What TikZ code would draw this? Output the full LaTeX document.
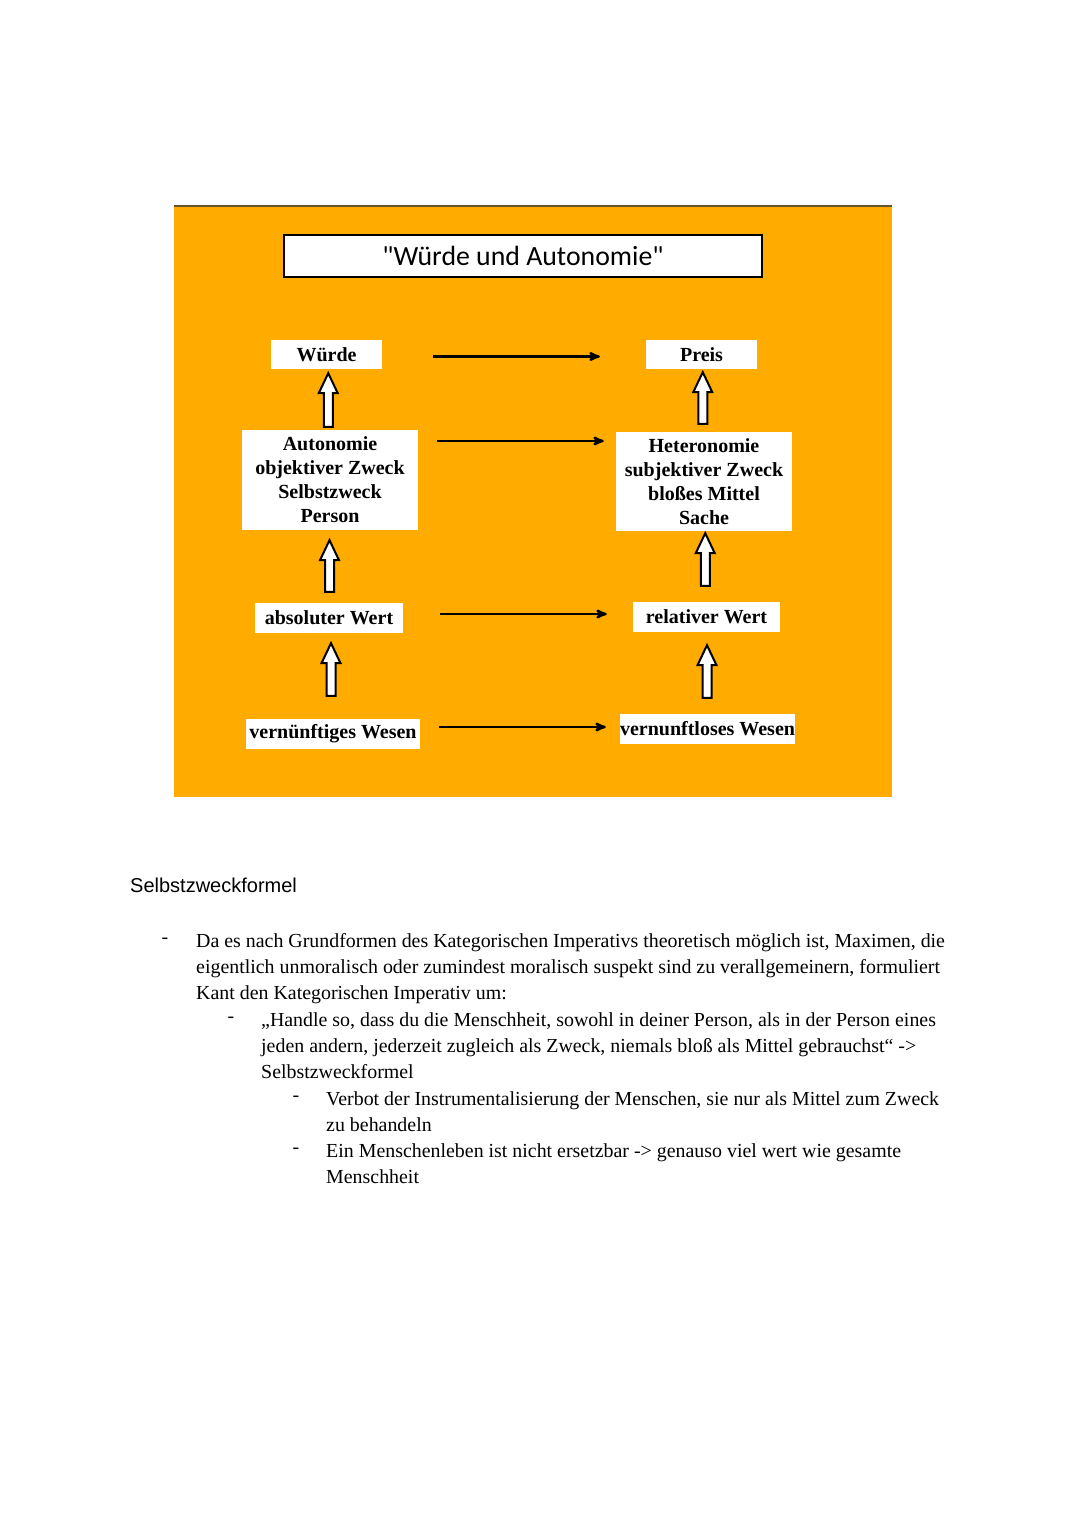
\documentclass[tikz,border=0pt]{standalone}
\usepackage{fontspec}
\setmainfont{Liberation Serif}
\newfontfamily\titlefont{Carlito}
\newfontfamily\headfont{Liberation Sans}
\usetikzlibrary{arrows,calc}
\definecolor{panelbg}{RGB}{255,171,0}
\definecolor{panelrule}{RGB}{105,85,45}

% hollow arrow from the top of #1 up to the bottom of #2, #3/#4 = gaps
\newcommand{\hollowup}[4]{%
  \draw[hollow] let \p1=($(#1.north)+(0,-#3)$), \p2=($(#2.south)+(0,#4)$),
    \p3=($(#1.north)!.5!(#2.south)$) in
    (\x3-4.5pt,\y1) -- (\x3-4.5pt,\y2-20pt) -- (\x3-9.5pt,\y2-20pt) -- (\x3,\y2)
    -- (\x3+9.5pt,\y2-20pt) -- (\x3+4.5pt,\y2-20pt) -- (\x3+4.5pt,\y1) -- cycle;}

\begin{document}
\begin{tikzpicture}[x=1pt,y=-1pt,
  box/.style={fill=white,inner sep=0pt,align=center,font=\bfseries\fontsize{20}{24}\selectfont},
  titlebox/.style={draw=black,line width=1.6pt,fill=white,minimum width=478pt,minimum height=42pt,
    font=\titlefont\fontsize{27.8}{30}\selectfont},
  flow/.style={->,>=stealth',line width=2.4pt},
  hollow/.style={draw=black,line width=2pt,fill=white,line join=miter},
  bullet/.style={inner sep=0pt,font=\fontsize{19.9}{26}\selectfont},
  itemtext/.style={bullet,anchor=north west,align=left}]

  \useasboundingbox (0,0) rectangle (1080,1525);
  \fill[white] (0,0) rectangle (1080,1525);

  % orange panel
  \fill[panelbg] (174,206) rectangle (892,797);
  \draw[panelrule,line width=1.5pt] (174,206) -- (892,206);

  \node[titlebox] (title) at (523,256) {"Würde und Autonomie"};

  % left column
  \node[box,minimum width=111pt,minimum height=29pt] (wuerde) at (326.5,354.5) {Würde};
  \node[box,minimum width=176pt,minimum height=100pt] (auto) at (330,480)
    {Autonomie\\objektiver Zweck\\Selbstzweck\\Person};
  \node[box,minimum width=148pt,minimum height=30pt] (abswert) at (329,618) {absoluter Wert};
  \node[box,minimum width=174pt,minimum height=30pt] (vwesen) at (333,734) {vernünftiges Wesen};

  % right column
  \node[box,minimum width=111pt,minimum height=29pt] (preis) at (701.5,354.5) {Preis};
  \node[box,minimum width=176pt,minimum height=99pt] (hetero) at (704,481.5)
    {Heteronomie\\subjektiver Zweck\\bloßes Mittel\\Sache};
  \node[box,minimum width=147pt,minimum height=30pt] (relwert) at (706.5,617) {relativer Wert};
  \node[box,minimum width=175pt,minimum height=30pt] (lwesen) at (707.5,729) {vernunftloses Wesen};

  \draw[flow] ([xshift=51pt,yshift=-2pt]wuerde.east) -- ([xshift=-46pt,yshift=-2pt]preis.west);
  \draw[flow] ([xshift=19pt,yshift=39pt]auto.east) -- ([xshift=-12pt,yshift=40.5pt]hetero.west);
  \draw[flow] ([xshift=37pt,yshift=4pt]abswert.east) -- ([xshift=-26pt,yshift=3pt]relwert.west);
  \draw[flow] ([xshift=19pt,yshift=7pt]vwesen.east) -- ([xshift=-14pt,yshift=2pt]lwesen.west);

  \hollowup{auto}{wuerde}{3}{4}
  \hollowup{abswert}{auto}{11}{10}
  \hollowup{vwesen}{abswert}{23}{10}
  \hollowup{hetero}{preis}{8}{3}
  \hollowup{relwert}{hetero}{16}{2}
  \hollowup{lwesen}{relwert}{16}{13}

  % notes below
  \node[anchor=north west,inner sep=0pt,font=\headfont\fontsize{20}{24}\selectfont] (head) at (130,878)
    {Selbstzweckformel};

  \node[bullet] (d1) at (165,941) {-};
  \node[itemtext] (item1) at (196,933)
    {Da es nach Grundformen des Kategorischen Imperativs theoretisch möglich ist, Maximen, die\\
     eigentlich unmoralisch oder zumindest moralisch suspekt sind zu verallgemeinern, formuliert\\
     Kant den Kategorischen Imperativ um:};
  \node[bullet] (d2) at (231,1020) {-};
  \node[itemtext] (item2) at (261,1012)
    {„Handle so, dass du die Menschheit, sowohl in deiner Person, als in der Person eines\\
     jeden andern, jederzeit zugleich als Zweck, niemals bloß als Mittel gebrauchst“ ->\\
     Selbstzweckformel};
  \node[bullet] (d3) at (296,1099) {-};
  \node[itemtext] (item3) at (326,1091)
    {Verbot der Instrumentalisierung der Menschen, sie nur als Mittel zum Zweck\\
     zu behandeln};
  \node[bullet] (d4) at (296,1151) {-};
  \node[itemtext] (item4) at (326,1143)
    {Ein Menschenleben ist nicht ersetzbar -> genauso viel wert wie gesamte\\
     Menschheit};
\end{tikzpicture}
\end{document}
